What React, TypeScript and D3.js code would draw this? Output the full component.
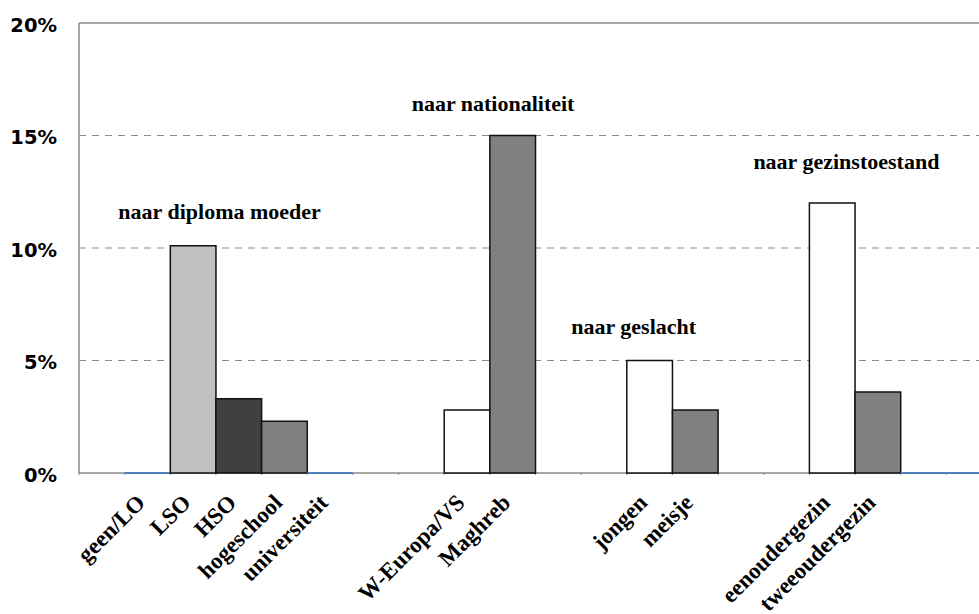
import React from "react";
import * as d3 from "d3";

const CATEGORIES = ["", "geen/LO", "LSO", "HSO", "hogeschool", "universiteit", "", "", "W-Europa/VS", "Maghreb", "", "", "jongen", "meisje", "", "", "eenoudergezin", "tweeoudergezin", "", ""];
const VALUES: (number | null)[] = [null, 0, 10.1, 3.3, 2.3, 0, null, null, 2.8, 15.0, null, null, 5.0, 2.8, null, null, 12.0, 3.6, 0, 0];
const FILLS = ["none", "none", "#c0c0c0", "#404040", "#808080", "none", "none", "none", "#ffffff", "#808080", "none", "none", "#ffffff", "#808080", "none", "none", "#ffffff", "#808080", "none", "none"];
const Y_TICKS = [0, 5, 10, 15, 20];
const GROUP_LABELS = ["naar diploma moeder", "naar nationaliteit", "naar geslacht", "naar gezinstoestand"];

const W = 979;
const H = 614;
const M = { left: 79, top: 23, bottom: 473, right: 992 };

export default function App() {
  const idx = CATEGORIES.map((_, i) => i);
  const x = d3.scaleBand<number>().domain(idx).range([M.left, M.right]).padding(0);
  const xs = d3.scaleLinear().domain([0, CATEGORIES.length]).range([M.left, M.right]);
  const y = d3.scaleLinear().domain([0, 20]).range([M.bottom, M.top]);
  const bw = x.bandwidth();

  // annotation anchors (slot position, value)
  const groupAt: [number, number][] = [[3.08, 11.3], [9.07, 16.1], [12.15, 6.2], [16.81, 13.5]];

  return (
    <svg width={W} height={H} style={{ position: "absolute", left: 0, top: 0, background: "#fff" }}>
      <rect x={0} y={0} width={W} height={H} fill="#fff" />
      {/* gridlines */}
      {Y_TICKS.filter((t) => t > 0 && t < 20).map((t) => (
        <line key={t} x1={M.left} x2={W} y1={y(t)} y2={y(t)} stroke="#8a8a8a" strokeWidth={1} strokeDasharray="7 6" />
      ))}
      <line x1={M.left} x2={W} y1={y(20)} y2={y(20)} stroke="#8a8a8a" strokeWidth={1.5} />
      <line x1={M.left} x2={M.left} y1={y(20)} y2={y(0)} stroke="#8a8a8a" strokeWidth={1.5} />
      {/* y labels */}
      {Y_TICKS.map((t) => (
        <text key={t} x={57} y={y(t) + 2} textAnchor="end" dominantBaseline="central" fontFamily="'DejaVu Sans', Verdana, sans-serif" fontWeight="bold" fontSize={19.5} fill="#000">
          {t}%
        </text>
      ))}
      {/* x axis */}
      <line x1={M.left} x2={W} y1={y(0)} y2={y(0)} stroke="#8a8a8a" strokeWidth={1.5} />
      {idx.map((i) => (
        <line key={"tk" + i} x1={x(i)!} x2={x(i)!} y1={y(0)} y2={y(0) + 2} stroke="#8a8a8a" strokeWidth={1} />
      ))}
      {/* bars */}
      {VALUES.map((v, i) => {
        if (v === null) return null;
        if (v === 0) {
          return <line key={"b" + i} x1={x(i)!} x2={x(i)! + bw} y1={y(0)} y2={y(0)} stroke="#4f81bd" strokeWidth={2} />;
        }
        return (
          <rect key={"b" + i} x={x(i)!} y={y(v)} width={bw} height={y(0) - y(v)} fill={FILLS[i]} stroke="#111" strokeWidth={1.5} />
        );
      })}
      {/* group annotations */}
      {GROUP_LABELS.map((g, k) => (
        <text key={g} x={xs(groupAt[k][0])} y={y(groupAt[k][1])} textAnchor="middle" fontFamily="'Liberation Serif', 'Times New Roman', serif" fontWeight="bold" fontSize={22} fill="#000">
          {g}
        </text>
      ))}
      {/* category labels */}
      {CATEGORIES.map((c, i) =>
        c ? (
          <text key={"c" + i} transform={`translate(${x(i)! + bw / 2 - 1},${504}) rotate(-45)`} textAnchor="end" fontFamily="'Liberation Serif', 'Times New Roman', serif" fontWeight="bold" fontSize={23} fill="#000">
            {c}
          </text>
        ) : null
      )}
    </svg>
  );
}
